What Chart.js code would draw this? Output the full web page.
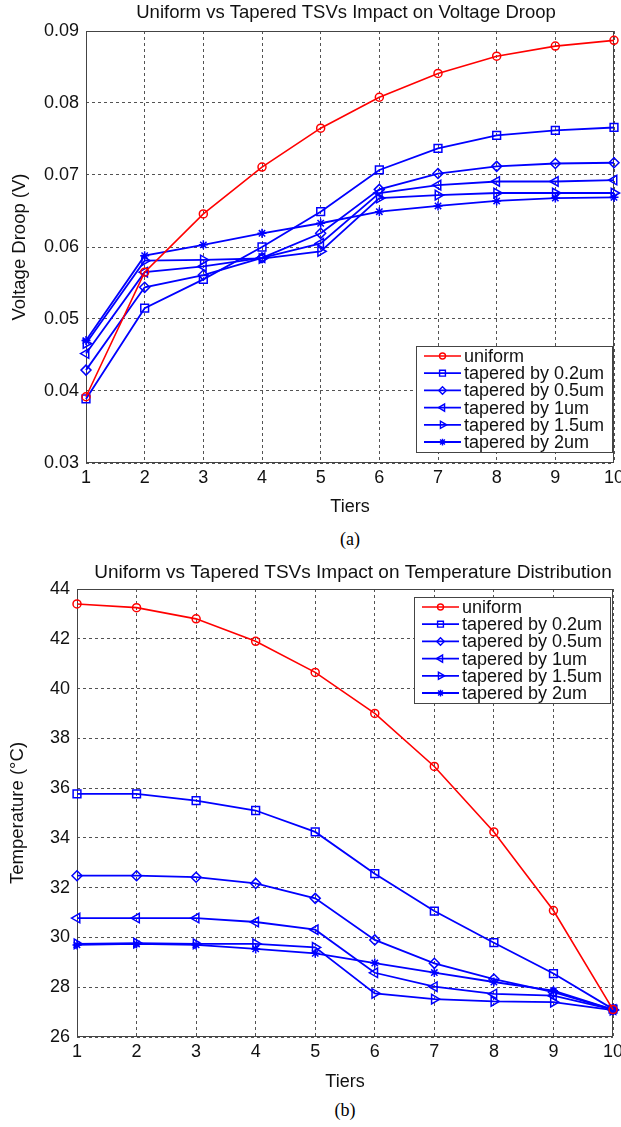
<!DOCTYPE html>
<html lang="en">
<head>
<meta charset="UTF-8">
<title>Uniform vs Tapered TSVs</title>
<style>
  html, body { margin: 0; padding: 0; background: #fff; }
  body { width: 621px; height: 1127px; position: relative; overflow: hidden; }
  .panel { position: absolute; left: 0; }
  .caption { position: absolute; width: 60px; text-align: center; font-family: "Liberation Serif", "Times New Roman", serif; font-size: 18px; line-height: 20px; color: #000; }
</style>
<script src="https://cdn.jsdelivr.net/npm/chart.js@4.4.1/dist/chart.umd.min.js"></script>
</head>
<body>
<div class="panel" style="top:0"><canvas id="droopChart" width="621" height="522"></canvas></div>
<div class="caption" style="left:320px; top:529px">(a)</div>
<div class="panel" style="top:555px"><canvas id="tempChart" width="621" height="542"></canvas></div>
<div class="caption" style="left:315px; top:1100px">(b)</div>

<script>
const tiers = [1, 2, 3, 4, 5, 6, 7, 8, 9, 10];
const seriesNames = ["uniform", "tapered by 0.2um", "tapered by 0.5um", "tapered by 1um", "tapered by 1.5um", "tapered by 2um"];

// (a) voltage droop, V
const droopUniform = [0.0392, 0.0565, 0.0646, 0.0711, 0.0765, 0.0808, 0.0841, 0.0865, 0.0879, 0.0887];
const droop02 = [0.0389, 0.0515, 0.0555, 0.0600, 0.0649, 0.0707, 0.0737, 0.0755, 0.0762, 0.0766];
const droop05 = [0.0429, 0.0544, 0.0561, 0.0585, 0.0619, 0.0680, 0.0702, 0.0712, 0.0716, 0.0717];
const droop1 = [0.0452, 0.0565, 0.0573, 0.0585, 0.0605, 0.0675, 0.0686, 0.0691, 0.0691, 0.0693];
const droop15 = [0.0466, 0.0581, 0.0582, 0.0584, 0.0594, 0.0668, 0.0672, 0.0675, 0.0675, 0.0675];
const droop2 = [0.0470, 0.0588, 0.0603, 0.0619, 0.0633, 0.0649, 0.0657, 0.0664, 0.0668, 0.0669];

// (b) temperature, deg C
const tempUniform = [43.40, 43.25, 42.80, 41.90, 40.65, 39.00, 36.87, 34.24, 31.08, 27.10];
const temp02 = [35.77, 35.77, 35.50, 35.10, 34.24, 32.56, 31.06, 29.79, 28.55, 27.12];
const temp05 = [32.48, 32.48, 32.42, 32.17, 31.57, 29.90, 28.96, 28.33, 27.80, 27.10];
const temp1 = [30.78, 30.78, 30.78, 30.62, 30.31, 28.58, 28.02, 27.73, 27.66, 27.10];
const temp15 = [29.74, 29.77, 29.74, 29.74, 29.60, 27.75, 27.52, 27.43, 27.40, 27.08];
const temp2 = [29.70, 29.74, 29.70, 29.54, 29.36, 28.97, 28.59, 28.21, 27.86, 27.10];

const FONT = "'Liberation Sans', Arial, sans-serif";
const RED = "rgb(255,0,0)";
const BLUE = "rgb(0,0,255)";

const markers = [
    { color: RED, style: "circle", radius: 4, rotation: 0 },
    { color: BLUE, style: "rect", radius: 5.5, rotation: 0 },
    { color: BLUE, style: "rectRot", radius: 5, rotation: 0 },
    { color: BLUE, style: "triangle", radius: 5.5, rotation: -90 },
    { color: BLUE, style: "triangle", radius: 5.5, rotation: 90 },
    { color: BLUE, style: "star", radius: 4.5, rotation: 0 }
];

function makeDatasets(seriesList) {
    return seriesList.map((values, i) => {
        const m = markers[i];
        return {
            label: seriesNames[i],
            data: values.map((v, j) => ({ x: tiers[j], y: v })),
            borderColor: m.color,
            backgroundColor: "rgba(0,0,0,0)",
            borderWidth: i == 0 ? 1.6 : 1.8,
            pointStyle: m.style,
            pointRadius: m.radius,
            pointRotation: m.rotation,
            pointBorderColor: m.color,
            pointBackgroundColor: "rgba(0,0,0,0)",
            pointBorderWidth: 1.5,
            tension: 0,
            clip: false
        };
    });
}

// title centred over the plot box, like the original
const plotTitle = {
    id: "plotTitle",
    afterDraw(chart, args, opts) {
        const { ctx, chartArea } = chart;
        ctx.save();
        ctx.font = opts.size + "px " + FONT;
        ctx.fillStyle = "#111";
        ctx.textAlign = "center";
        ctx.textBaseline = "middle";
        ctx.fillText(opts.text, (chartArea.left + chartArea.right) / 2 + (opts.dx || 0), opts.y);
        ctx.restore();
    }
};

// full box around the axes
const plotFrame = {
    id: "plotFrame",
    beforeDatasetsDraw(chart) {
        const { ctx, chartArea: a } = chart;
        ctx.save();
        ctx.strokeStyle = "#444";
        ctx.lineWidth = 1;
        ctx.strokeRect(a.left + 0.5, a.top + 0.5, a.right - a.left - 1, a.bottom - a.top - 1);
        ctx.restore();
    }
};

// boxed legend inside the axes
const boxLegend = {
    id: "boxLegend",
    afterDraw(chart, args, opts) {
        const { ctx, chartArea } = chart;
        const w = opts.width, h = opts.height;
        const left = chartArea.right - opts.right - w;
        const top = opts.corner == "top" ? chartArea.top + opts.offset : chartArea.bottom - opts.offset - h;
        ctx.save();
        ctx.fillStyle = "#fff";
        ctx.fillRect(left, top, w, h);
        ctx.strokeStyle = "#444";
        ctx.lineWidth = 1;
        ctx.strokeRect(left + 0.5, top + 0.5, w, h);
        ctx.font = opts.size + "px " + FONT;
        ctx.textBaseline = "middle";
        chart.data.datasets.forEach((ds, i) => {
            const y = top + opts.padTop + i * opts.rowGap;
            ctx.strokeStyle = ds.borderColor;
            ctx.lineWidth = ds.borderWidth;
            ctx.beginPath();
            ctx.moveTo(left + 8, y);
            ctx.lineTo(left + 45, y);
            ctx.stroke();
            ctx.fillStyle = "rgba(0,0,0,0)";
            ctx.lineWidth = 1.4;
            Chart.helpers.drawPoint(ctx, {
                pointStyle: ds.pointStyle,
                rotation: ds.pointRotation,
                radius: ds.pointRadius * 0.75,
                borderWidth: 1.4
            }, left + 26.5, y);
            ctx.fillStyle = "#111";
            ctx.fillText(ds.label, left + 48, y + 1);
        });
        ctx.restore();
    }
};

function makeOptions(cfg) {
    return {
        responsive: false,
        animation: false,
        events: [],
        layout: { padding: { left: 0, right: cfg.padRight, top: cfg.padTop, bottom: 0 } },
        plugins: {
            legend: { display: false },
            tooltip: { enabled: false },
            plotTitle: { text: cfg.title, y: cfg.titleY, size: cfg.titleSize, dx: cfg.titleDx },
            boxLegend: Object.assign({ width: 196, height: 106, right: 3, padTop: 10, rowGap: 17.2, size: 18 }, cfg.legend)
        },
        scales: {
            x: {
                type: "linear",
                min: 1,
                max: 10,
                afterFit: s => { s.height = cfg.xHeight; s.paddingLeft = 0; s.paddingRight = 0; },
                ticks: { stepSize: 1, padding: 4, color: "#111", font: { family: FONT, size: 18 } },
                grid: { color: "rgba(40,40,40,0.8)", lineWidth: 1, drawTicks: false },
                border: { display: false, dash: [3, 3] },
                title: { display: true, text: "Tiers", color: "#111", font: { family: FONT, size: 18 }, padding: { top: 0, bottom: 4 } }
            },
            y: {
                min: cfg.yMin,
                max: cfg.yMax,
                afterFit: s => { s.width = cfg.yWidth; s.paddingTop = 0; s.paddingBottom = 0; },
                ticks: { stepSize: cfg.yStep, padding: 7, color: "#111", font: { family: FONT, size: 18 }, callback: cfg.yFormat },
                grid: { color: "rgba(40,40,40,0.8)", lineWidth: 1, drawTicks: false },
                border: { display: false, dash: [3, 3] },
                title: { display: true, text: cfg.yTitle, color: "#111", font: { family: FONT, size: 18.5 }, padding: { top: cfg.yTitlePad, bottom: 0 } }
            }
        }
    };
}

new Chart(document.getElementById("droopChart"), {
    type: "line",
    data: { datasets: makeDatasets([droopUniform, droop02, droop05, droop1, droop15, droop2]) },
    options: makeOptions({
        title: "Uniform vs Tapered TSVs Impact on Voltage Droop",
        titleY: 13,
        titleSize: 18.5,
        titleDx: -4,
        padTop: 31,
        padRight: 7,
        xHeight: 59,
        yWidth: 86,
        yMin: 0.03,
        yMax: 0.09,
        yStep: 0.01,
        yFormat: v => v.toFixed(2),
        yTitle: "Voltage Droop (V)",
        yTitlePad: 9,
        legend: { corner: "bottom", offset: 11, right: 2 }
    }),
    plugins: [plotFrame, plotTitle, boxLegend]
});

new Chart(document.getElementById("tempChart"), {
    type: "line",
    data: { datasets: makeDatasets([tempUniform, temp02, temp05, temp1, temp15, temp2]) },
    options: makeOptions({
        title: "Uniform vs Tapered TSVs Impact on Temperature Distribution",
        titleY: 18,
        titleSize: 19,
        titleDx: 8,
        padTop: 34,
        padRight: 8,
        xHeight: 60,
        yWidth: 77,
        yMin: 26,
        yMax: 44,
        yStep: 2,
        yFormat: v => String(v),
        yTitle: "Temperature (\u00b0C)",
        yTitlePad: 7,
        legend: { corner: "top", offset: 8, right: 3 }
    }),
    plugins: [plotFrame, plotTitle, boxLegend]
});
</script>
</body>
</html>
